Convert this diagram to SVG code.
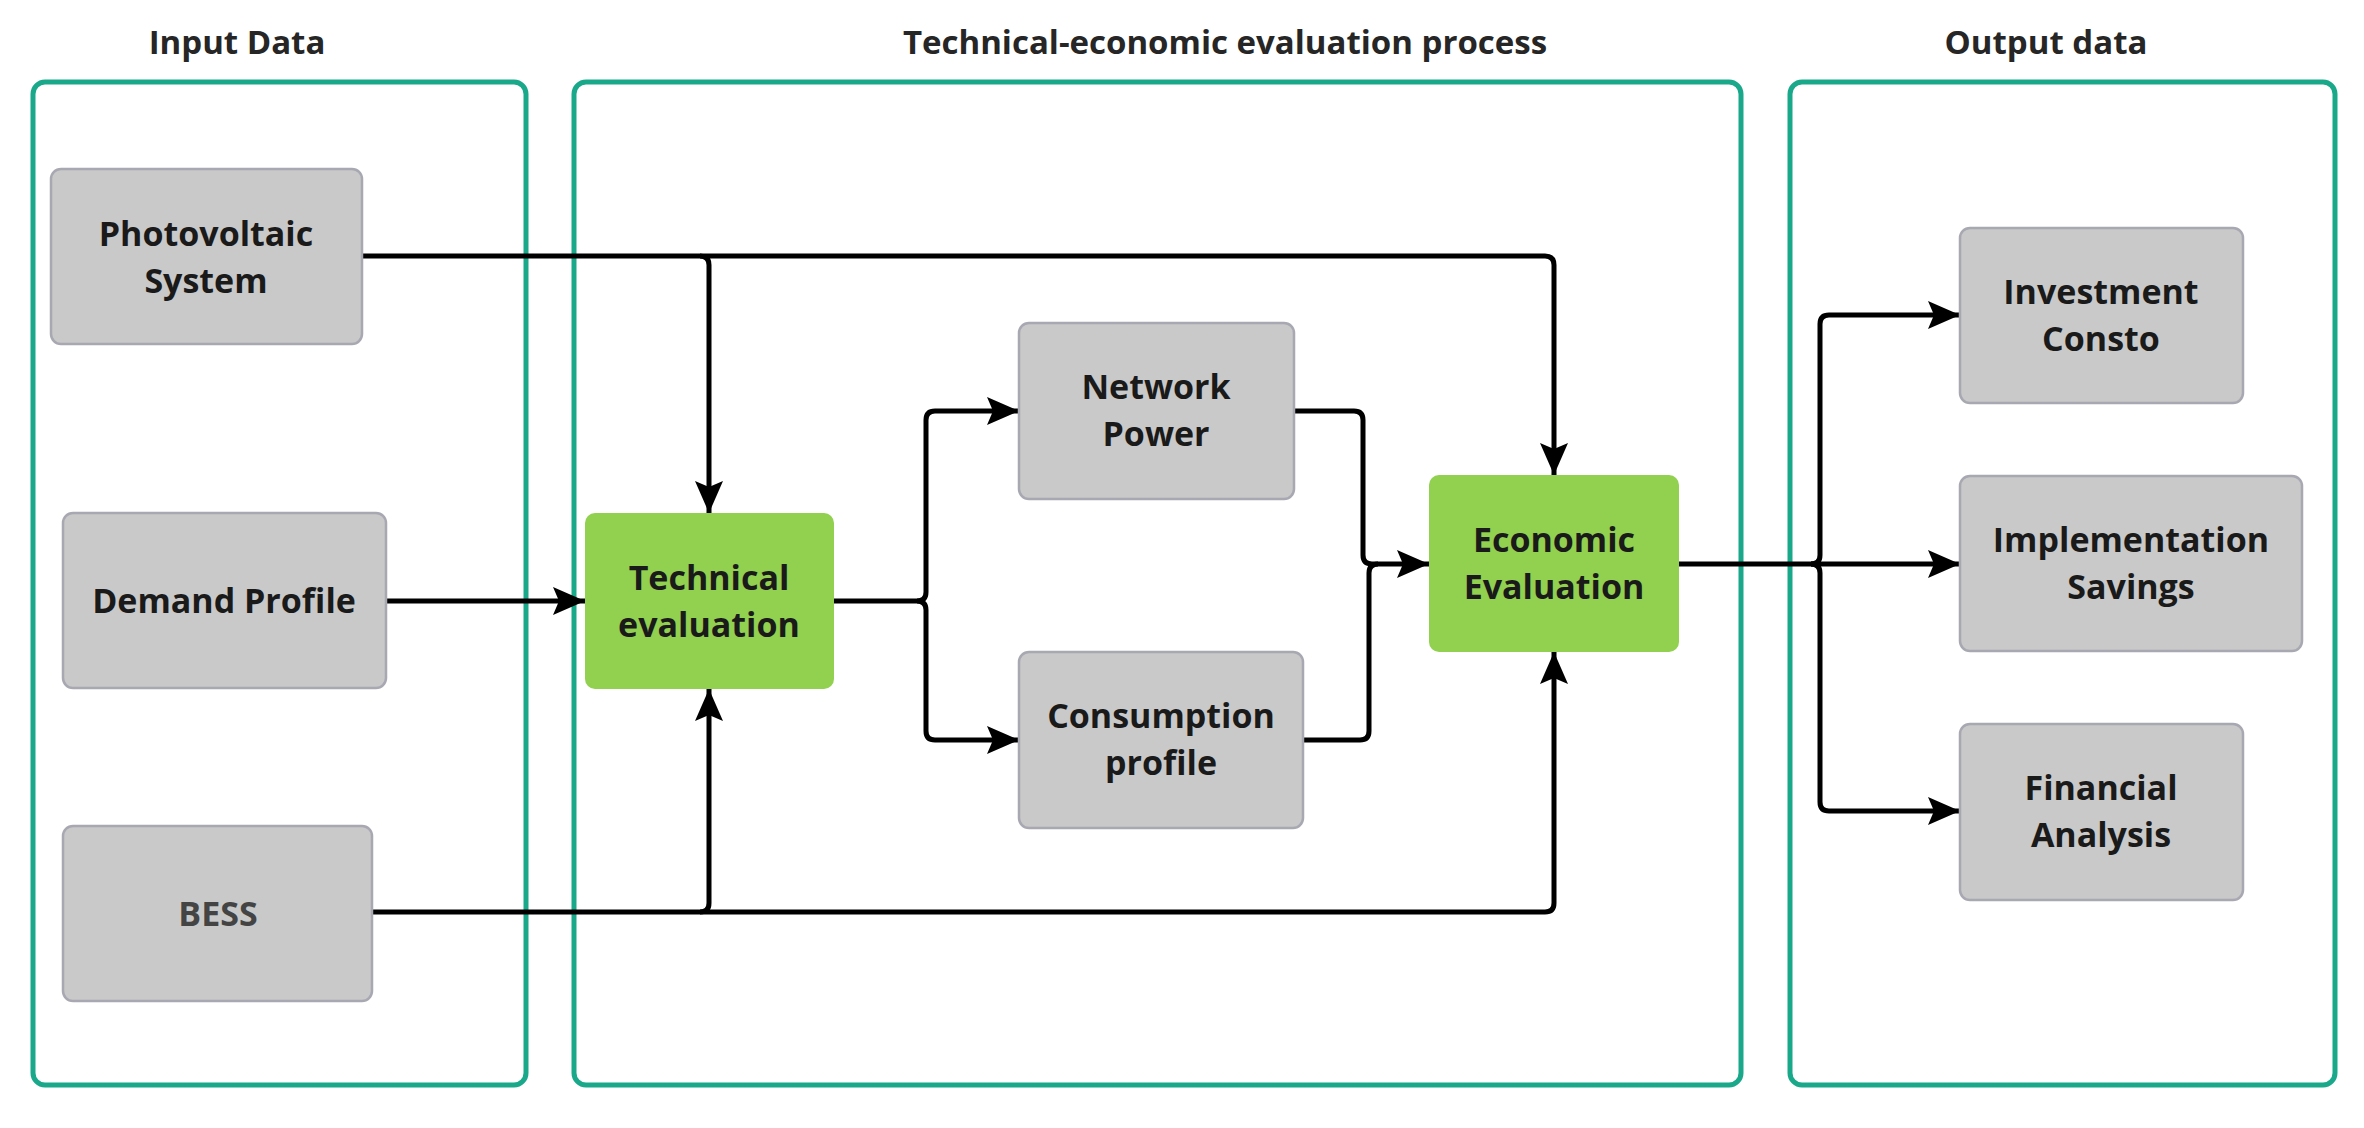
<svg xmlns="http://www.w3.org/2000/svg" width="2364" height="1128" viewBox="0 0 2364 1128">
<style>
.c{fill:none;stroke:#1aa88a;stroke-width:5}
.t{font-family:"Open Sans","Noto Sans",sans-serif;font-weight:bold;font-size:33px;fill:#262626;text-anchor:middle}
.n{fill:#c9c9c9;stroke:#a8a8b2;stroke-width:2.5}
.g{fill:#92d050}
.l{font-family:"Open Sans","Noto Sans",sans-serif;font-weight:bold;font-size:34px;fill:#1a1a1a;text-anchor:middle}
.e{fill:none;stroke:#000;stroke-width:5;stroke-linejoin:round}
</style>
<defs>
<marker id="a" markerUnits="userSpaceOnUse" markerWidth="34" markerHeight="28" refX="32" refY="14" orient="auto"><path d="M0,0 L32,14 L0,28 L6,14 Z" fill="#000"/></marker>
</defs>
<rect width="2364" height="1128" fill="#fff"/>
<g id="input-data">
<text class="t" x="237" y="54">Input Data</text>
<rect class="c" x="33" y="82" width="493" height="1003" rx="12"/>
</g>
<g id="process">
<text class="t" x="1225" y="54">Technical-economic evaluation process</text>
<rect class="c" x="574" y="82" width="1167" height="1003" rx="12"/>
</g>
<g id="output-data">
<text class="t" x="2046" y="54">Output data</text>
<rect class="c" x="1790" y="82" width="545" height="1003" rx="12"/>
</g>
<g id="connectors">
<path class="e" d="M362,256 H700 Q709,256 709,265 V513" marker-end="url(#a)"/>
<path class="e" d="M700,256 H1545 Q1554,256 1554,265 V475" marker-end="url(#a)"/>
<path class="e" d="M386,601 H585" marker-end="url(#a)"/>
<path class="e" d="M372,912 H700 Q709,912 709,903 V689" marker-end="url(#a)"/>
<path class="e" d="M700,912 H1545 Q1554,912 1554,903 V652" marker-end="url(#a)"/>
<path class="e" d="M834,601 H917 Q926,601 926,592 V420 Q926,411 935,411 H1019" marker-end="url(#a)"/>
<path class="e" d="M917,601 Q926,601 926,610 V731 Q926,740 935,740 H1019" marker-end="url(#a)"/>
<path class="e" d="M1294,411 H1354 Q1363,411 1363,420 V555 Q1363,564 1372,564 H1429" marker-end="url(#a)"/>
<path class="e" d="M1303,740 H1360 Q1369,740 1369,731 V573 Q1369,564 1378,564" />
<path class="e" d="M1679,564 H1960" marker-end="url(#a)"/>
<path class="e" d="M1811,564 Q1820,564 1820,555 V324 Q1820,315 1829,315 H1960" marker-end="url(#a)"/>
<path class="e" d="M1811,564 Q1820,564 1820,573 V802 Q1820,811 1829,811 H1960" marker-end="url(#a)"/>
</g>
<g id="pv"><rect class="n" x="51" y="169" width="311" height="175" rx="10"/><text class="l" x="206" y="246">Photovoltaic</text><text class="l" x="206" y="293">System</text></g>
<g id="demand"><rect class="n" x="63" y="513" width="323" height="175" rx="10"/><text class="l" x="224" y="613">Demand Profile</text></g>
<g id="bess"><rect class="n" x="63" y="826" width="309" height="175" rx="10"/><text class="l" x="218" y="926" fill="#444" style="fill:#444">BESS</text></g>
<g id="technical"><rect class="g" x="585" y="513" width="249" height="176" rx="10"/><text class="l" x="709" y="590">Technical</text><text class="l" x="709" y="637">evaluation</text></g>
<g id="network"><rect class="n" x="1019" y="323" width="275" height="176" rx="10"/><text class="l" x="1156" y="399">Network</text><text class="l" x="1156" y="446">Power</text></g>
<g id="consumption"><rect class="n" x="1019" y="652" width="284" height="176" rx="10"/><text class="l" x="1161" y="728">Consumption</text><text class="l" x="1161" y="775">profile</text></g>
<g id="economic"><rect class="g" x="1429" y="475" width="250" height="177" rx="10"/><text class="l" x="1554" y="552">Economic</text><text class="l" x="1554" y="599">Evaluation</text></g>
<g id="investment"><rect class="n" x="1960" y="228" width="283" height="175" rx="10"/><text class="l" x="2101" y="304">Investment</text><text class="l" x="2101" y="351">Consto</text></g>
<g id="implementation"><rect class="n" x="1960" y="476" width="342" height="175" rx="10"/><text class="l" x="2131" y="552">Implementation</text><text class="l" x="2131" y="599">Savings</text></g>
<g id="financial"><rect class="n" x="1960" y="724" width="283" height="176" rx="10"/><text class="l" x="2101" y="800">Financial</text><text class="l" x="2101" y="847">Analysis</text></g>
</svg>
